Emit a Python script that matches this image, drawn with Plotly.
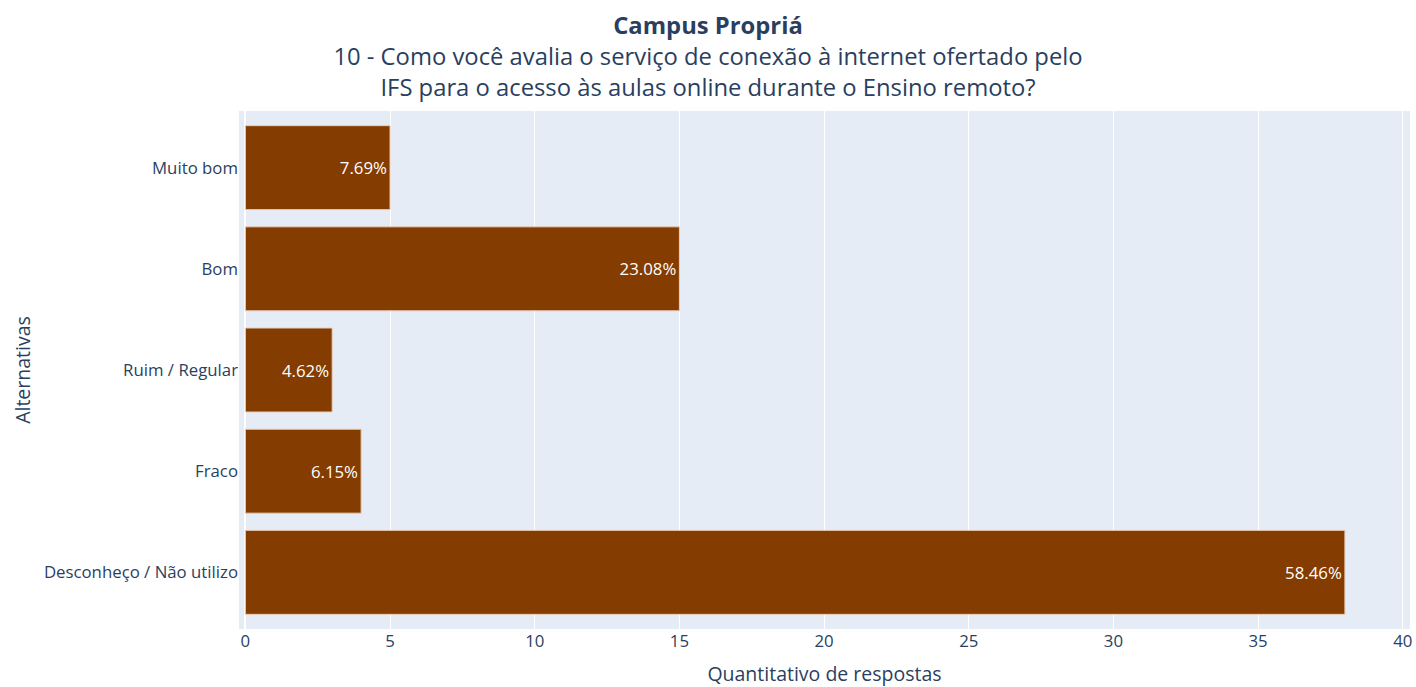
import plotly.graph_objects as go

categories = ["Muito bom", "Bom", "Ruim / Regular", "Fraco", "Desconheço / Não utilizo"]
counts = [5, 15, 3, 4, 38]
percent_labels = ["7.69%", "23.08%", "4.62%", "6.15%", "58.46%"]

title_main = "Campus Propriá"
title_sub = "10 - Como você avalia o serviço de conexão à internet ofertado pelo<br>IFS para o acesso às aulas online durante o Ensino remoto?"

fig = go.Figure(go.Bar(
    x=counts,
    y=categories,
    orientation="h",
    text=percent_labels,
    textposition="inside",
    insidetextanchor="end",
    textangle=0,
    textfont=dict(color="white", size=16.8, family="Open Sans"),
    marker=dict(color="#843c00", line=dict(color="#e8cdb8", width=1)),
    width=0.83,
))

fig.update_layout(
    template="plotly",
    width=1416,
    height=687,
    margin=dict(l=239, r=6, t=111, b=58, autoexpand=False),
    font=dict(family="Open Sans", color="#2a3f5f", size=16.8),
    title=dict(
        text=f"<b>{title_main}</b><br>{title_sub}",
        x=0.5, xref="container", xanchor="center",
        y=1, yref="container", yanchor="top",
        pad=dict(t=34),
        font=dict(size=23.8, family="Open Sans"),
    ),
    showlegend=False,
)
fig.update_xaxes(
    title=dict(text="Quantitativo de respostas", font=dict(size=19.5), standoff=17),
    range=[-0.22, 40.25],
    dtick=5,
    tickfont=dict(size=16.8),
    zeroline=True, zerolinecolor="white", zerolinewidth=2,
)
fig.update_yaxes(
    title=dict(text="Alternativas", font=dict(size=19.5), standoff=8),
    categoryorder="array",
    categoryarray=categories[::-1],
    range=[-0.56, 4.56],
    tickfont=dict(size=16.8),
)

fig.write_html(
    "out.html",
    config={"displayModeBar": False},
    post_script="document.body.style.margin='0';document.body.style.overflow='hidden';",
)
